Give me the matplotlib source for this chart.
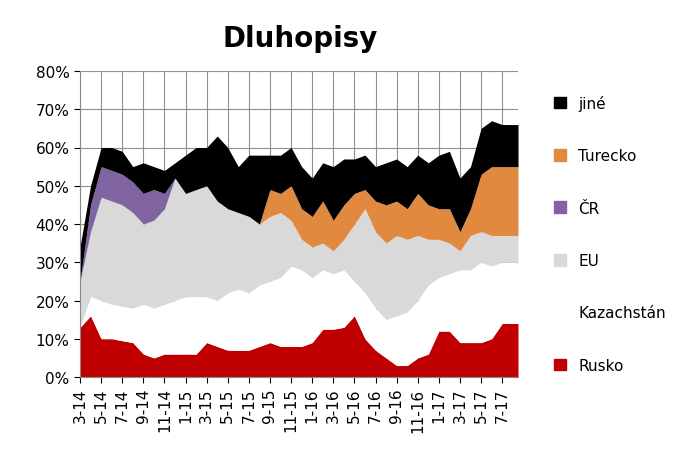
import matplotlib.pyplot as plt
import numpy as np

# month offsets from 3/2014
months = [0, 1, 2, 3, 4, 5, 6, 7, 8, 9, 10, 11, 12, 13, 14, 15, 16, 17, 18, 19, 20,
          21, 22, 23, 24, 25, 26, 27, 28, 29, 30, 31, 32, 33, 34, 35, 36, 37, 38, 39, 40, 41.5]
rusko = [13, 16, 10, 10, 9.5, 9, 6, 5, 6, 6, 6, 6, 9, 8, 7, 7, 7, 8, 9, 8, 8,
         8, 9, 12.5, 12.5, 13, 16, 10, 7, 5, 3, 3, 5, 6, 12, 12, 9, 9, 9, 10, 14, 14]
kazachstan = [0, 5, 10, 9, 9, 9, 13, 13, 13, 14, 15, 15, 12, 12, 15, 16, 15, 16, 16, 18, 21,
              20, 17, 15.5, 14.5, 15, 9, 12, 11, 10, 13, 14, 15, 18, 14, 15, 19, 19, 21, 19, 16, 16]
eu = [12, 17, 27, 27, 26.5, 25, 21, 23, 25, 32, 27, 28, 29, 26, 22, 20, 20, 16, 17, 17, 12,
      8, 8, 7, 6, 8, 15, 22, 20, 20, 21, 19, 17, 12, 10, 8, 5, 9, 8, 8, 7, 7]
cr = [0, 7, 8, 8, 8, 8, 8, 8, 4, 0, 0, 0, 0, 0, 0, 0, 0, 0, 0, 0, 0,
      0, 0, 0, 0, 0, 0, 0, 0, 0, 0, 0, 0, 0, 0, 0, 0, 0, 0, 0, 0, 0]
turecko = [0, 0, 0, 0, 0, 0, 0, 0, 0, 0, 0, 0, 0, 0, 0, 0, 0, 0, 7, 5, 9,
           8, 8, 11, 8, 9, 8, 5, 8, 10, 9, 8, 11, 9, 8, 9, 5, 7, 15, 18, 18, 18]
jine = [9, 5, 5, 6, 6, 4, 8, 6, 6, 4, 10, 11, 10, 17, 16, 12, 16, 18, 9, 10, 10,
        11, 10, 10, 14, 12, 9, 9, 9, 11, 11, 11, 10, 11, 14, 15, 14, 11, 12, 12, 11, 11]

tick_labels = ["3-14", "5-14", "7-14", "9-14", "11-14", "1-15", "3-15", "5-15", "7-15",
               "9-15", "11-15", "1-16", "3-16", "5-16", "7-16", "9-16", "11-16",
               "1-17", "3-17", "5-17", "7-17"]

series = [("Rusko", rusko, "#C00000"), ("Kazachstán", kazachstan, "#FFFFFF"),
          ("EU", eu, "#D9D9D9"), ("ČR", cr, "#8064A2"),
          ("Turecko", turecko, "#E0893F"), ("jiné", jine, "#000000")]

fig = plt.figure(figsize=(6.75, 4.6), dpi=100)
ax = fig.add_axes([80 / 675, 82 / 460, 438 / 675, 306 / 460])

x = np.array(months)
base = np.zeros(len(x))
handles = []
for name, vals, color in series:
    top = base + np.array(vals)
    ax.fill_between(x, base, top, color=color, linewidth=0, zorder=2)
    handles.append(plt.Rectangle((0, 0), 1, 1, color=color))
    base = top

ax.set_xlim(0, 41.5)
ax.set_ylim(0, 80)
ax.set_yticks(range(0, 81, 10))
ax.set_yticklabels([f"{v}%" for v in range(0, 81, 10)], fontsize=11)
ax.set_xticks(range(0, 41, 2))
ax.set_xticklabels(tick_labels, rotation=90, fontsize=11)
ax.grid(True, color="#909090", linewidth=0.8, zorder=0)
ax.set_axisbelow(True)
for s in ["top", "right"]:
    ax.spines[s].set_visible(False)
for s in ["left", "bottom"]:
    ax.spines[s].set_color("#888888")
ax.tick_params(colors="#000000", length=4)

fig.text(0.445, 0.915, "Dluhopisy", fontsize=20, fontweight="bold", ha="center", va="center")

leg = fig.legend(handles[::-1], [s[0] for s in series][::-1], loc="upper left",
                 bbox_to_anchor=(540 / 675, 1 - 82 / 460), frameon=False, fontsize=11,
                 labelspacing=2.45, handlelength=0.8, handleheight=0.8)

fig.savefig("out.png")
